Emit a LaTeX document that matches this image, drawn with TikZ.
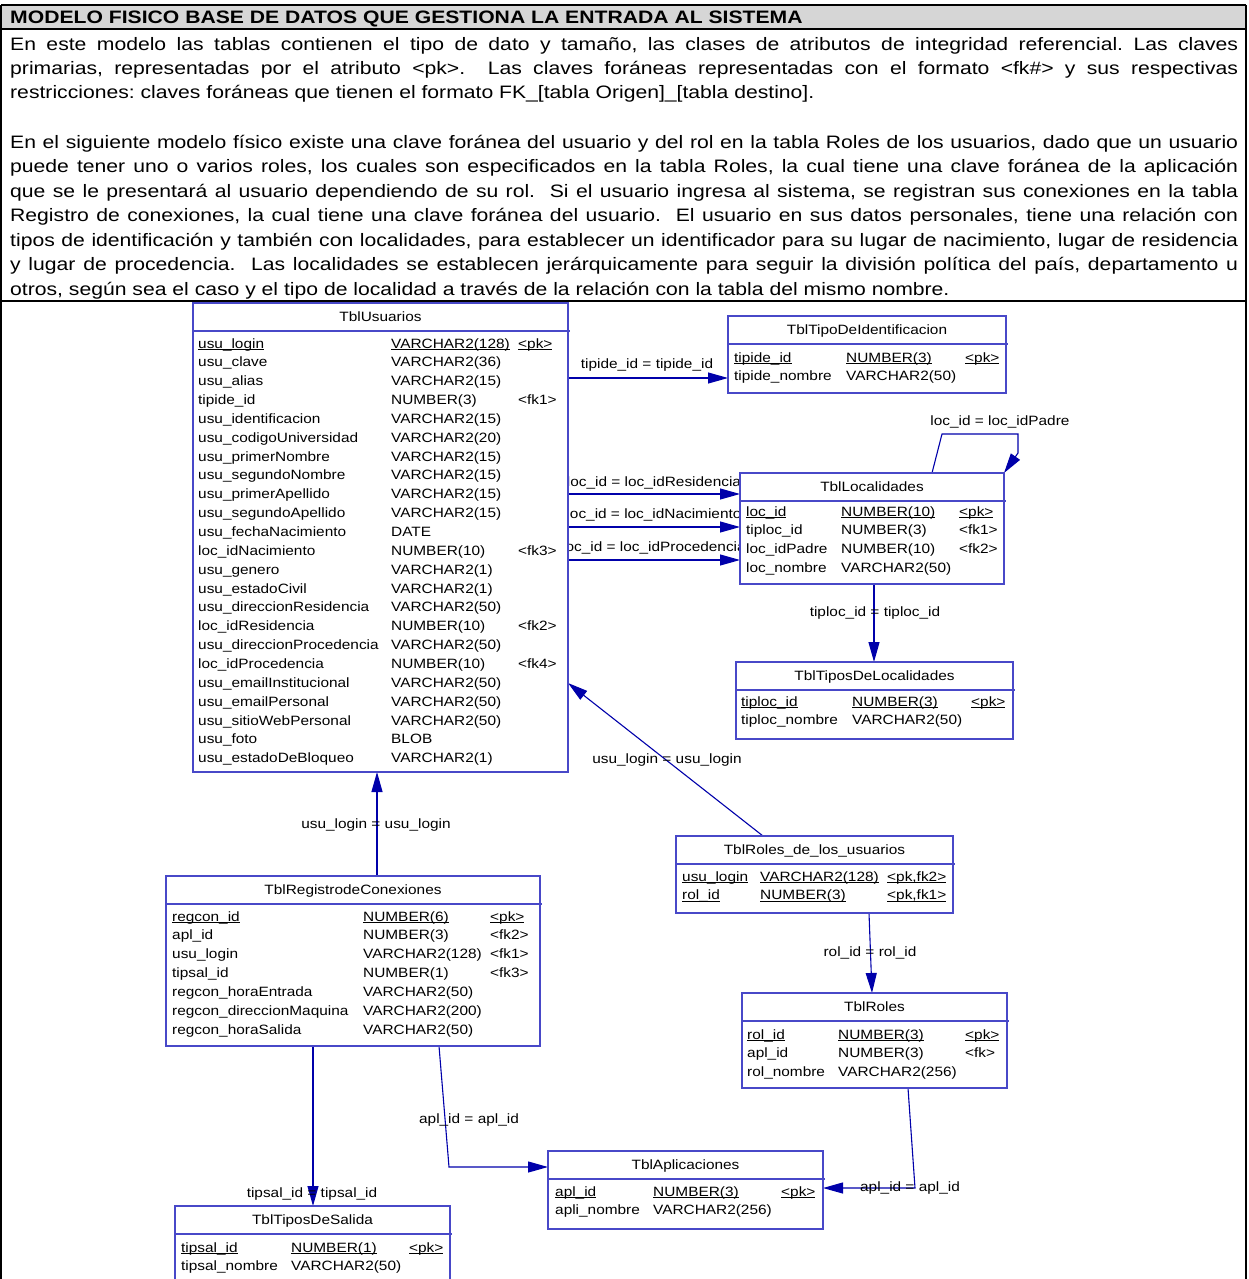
\documentclass[tikz,border=0pt]{standalone}
\usepackage{fontspec}
\setmainfont{Liberation Sans}
\newfontfamily\bodyfamily[FakeStretch=1.175]{Liberation Sans}
\newfontfamily\tabfamily[FakeStretch=1.14]{Liberation Sans}
\usetikzlibrary{arrows.meta}
\frenchspacing

\definecolor{boxblue}{RGB}{72,72,200}
\definecolor{linkblue}{RGB}{0,0,170}
\definecolor{barfill}{RGB}{214,214,214}

\newcommand\tabfont{\tabfamily\fontsize{13.5}{15}\selectfont}
\newcommand\txtfont{\bodyfamily\fontsize{18}{24}\selectfont}
\newcommand\ulbox[1]{\setbox0\hbox{#1}\rlap{\rule[-1.9pt]{\wd0}{0.8pt}}\box0}
\newcommand\jline[1]{\makebox[1228pt][s]{#1}}

\pgfdeclarelayer{background}
\pgfsetlayers{background,main}

\tikzset{
  tbl/.style={draw=boxblue, line width=1.1pt, fill=white, rectangle,
    inner sep=0pt, outer sep=0pt, anchor=north west},
  boxline/.style={draw=boxblue, line width=1.1pt},
  cell/.style={anchor=base west, inner sep=0pt, font=\tabfont},
  ttl/.style={anchor=base, inner sep=0pt, font=\tabfont},
  rel/.style={draw=linkblue, line width=1.1pt},
  fk/.style={rel, -{Triangle[length=20pt,width=11pt]}},
  lbl/.style={anchor=base, inner sep=0pt, font=\tabfont},
  para/.style={anchor=base west, inner sep=0pt, font=\txtfont},
  frame/.style={draw=black, line width=1.2pt}
}

% table box with title row
\newcommand\dbtable[6]{%
  \node[tbl, minimum width={#4-#2}, minimum height={#5-#3}] (#1) at (#2,#3) {};
  \draw[boxline] (#1.west |- 0,#3+28) -- ([xshift=2pt]#1.east |- 0,#3+28);
  \node[ttl] (#1-title) at ({(#2+#4)/2},#3+18) {#6};
}
% column rows: prefix, x name, x type, x key, first baseline, rows
\newcommand\tablerows[6]{%
  \foreach \colname/\coltype/\colkey [count=\i from 0] in {#6}{%
    \node[cell] (#1-\i-n) at (#2,#5+\i*18.85) {\colname};
    \node[cell] (#1-\i-t) at (#3,#5+\i*18.85) {\coltype};
    \node[cell] (#1-\i-k) at (#4,#5+\i*18.85) {\colkey};
  }%
}

\begin{document}
\begin{tikzpicture}[x=1pt,y=-1pt]
\useasboundingbox (0,0) rectangle (1248,1279);

% ---------- header and description ----------
\fill[barfill] (1,5) rectangle (1246,29);
\node[anchor=base west, inner sep=0pt, font=\bodyfamily\bfseries\fontsize{18}{20}\selectfont]
  (title) at (10,23.5) {MODELO FISICO BASE DE DATOS QUE GESTIONA LA ENTRADA AL SISTEMA};

\node[para] (p1) at (10,51) {\jline{En este modelo las tablas contienen el tipo de dato y tamaño, las clases de atributos de integridad referencial. Las claves}};
\node[para] (p2) at (10,75) {\jline{primarias, representadas por el atributo <pk>.\ \ Las claves foráneas representadas con el formato <fk\#> y sus respectivas}};
\node[para] (p3) at (10,99) {restricciones: claves foráneas que tienen el formato FK\_[tabla Origen]\_[tabla destino].};
\node[para] (p4) at (10,148) {\jline{En el siguiente modelo físico existe una clave foránea del usuario y del rol en la tabla Roles de los usuarios, dado que un usuario}};
\node[para] (p5) at (10,172) {\jline{puede tener uno o varios roles, los cuales son especificados en la tabla Roles, la cual tiene una clave foránea de la aplicación}};
\node[para] (p6) at (10,197) {\jline{que se le presentará al usuario dependiendo de su rol.\ \ Si el usuario ingresa al sistema, se registran sus conexiones en la tabla}};
\node[para] (p7) at (10,221) {\jline{Registro de conexiones, la cual tiene una clave foránea del usuario.\ \ El usuario en sus datos personales, tiene una relación con}};
\node[para] (p8) at (10,246) {\jline{tipos de identificación y también con localidades, para establecer un identificador para su lugar de nacimiento, lugar de residencia}};
\node[para] (p9) at (10,270) {\jline{y lugar de procedencia.\ \ Las localidades se establecen jerárquicamente para seguir la división política del país, departamento u}};
\node[para] (p10) at (10,295) {otros, según sea el caso y el tipo de localidad a través de la relación con la tabla del mismo nombre.};

% ---------- tables ----------
\dbtable{usu}{193}{303}{568}{772}{TblUsuarios}
\tablerows{usu}{198}{391}{518}{348}{%
  {\ulbox{usu\_login}}/{\ulbox{VARCHAR2(128)}}/{\ulbox{<pk>}},
  {usu\_clave}/{VARCHAR2(36)}/{},
  {usu\_alias}/{VARCHAR2(15)}/{},
  {tipide\_id}/{NUMBER(3)}/{<fk1>},
  {usu\_identificacion}/{VARCHAR2(15)}/{},
  {usu\_codigoUniversidad}/{VARCHAR2(20)}/{},
  {usu\_primerNombre}/{VARCHAR2(15)}/{},
  {usu\_segundoNombre}/{VARCHAR2(15)}/{},
  {usu\_primerApellido}/{VARCHAR2(15)}/{},
  {usu\_segundoApellido}/{VARCHAR2(15)}/{},
  {usu\_fechaNacimiento}/{DATE}/{},
  {loc\_idNacimiento}/{NUMBER(10)}/{<fk3>},
  {usu\_genero}/{VARCHAR2(1)}/{},
  {usu\_estadoCivil}/{VARCHAR2(1)}/{},
  {usu\_direccionResidencia}/{VARCHAR2(50)}/{},
  {loc\_idResidencia}/{NUMBER(10)}/{<fk2>},
  {usu\_direccionProcedencia}/{VARCHAR2(50)}/{},
  {loc\_idProcedencia}/{NUMBER(10)}/{<fk4>},
  {usu\_emailInstitucional}/{VARCHAR2(50)}/{},
  {usu\_emailPersonal}/{VARCHAR2(50)}/{},
  {usu\_sitioWebPersonal}/{VARCHAR2(50)}/{},
  {usu\_foto}/{BLOB}/{},
  {usu\_estadoDeBloqueo}/{VARCHAR2(1)}/{}}

\dbtable{tide}{728}{316}{1006}{393}{TblTipoDeIdentificacion}
\tablerows{tide}{734}{846}{965}{362}{%
  {\ulbox{tipide\_id}}/{\ulbox{NUMBER(3)}}/{\ulbox{<pk>}},
  {tipide\_nombre}/{VARCHAR2(50)}/{}}

\dbtable{loc}{740}{473}{1004}{584}{TblLocalidades}
\tablerows{loc}{746}{841}{959}{516}{%
  {\ulbox{loc\_id}}/{\ulbox{NUMBER(10)}}/{\ulbox{<pk>}},
  {tiploc\_id}/{NUMBER(3)}/{<fk1>},
  {loc\_idPadre}/{NUMBER(10)}/{<fk2>},
  {loc\_nombre}/{VARCHAR2(50)}/{}}

\dbtable{tloc}{736}{662}{1013}{739}{TblTiposDeLocalidades}
\tablerows{tloc}{741}{852}{971}{706}{%
  {\ulbox{tiploc\_id}}/{\ulbox{NUMBER(3)}}/{\ulbox{<pk>}},
  {tiploc\_nombre}/{VARCHAR2(50)}/{}}

\dbtable{rusu}{676}{836}{953}{913}{TblRoles\_de\_los\_usuarios}
\tablerows{rusu}{682}{760}{887}{881}{%
  {\ulbox{usu\_login}}/{\ulbox{VARCHAR2(128)}}/{\ulbox{<pk,fk2>}},
  {\ulbox{rol\_id}}/{\ulbox{NUMBER(3)}}/{\ulbox{<pk,fk1>}}}

\dbtable{rol}{742}{993}{1007}{1088}{TblRoles}
\tablerows{rol}{747}{838}{965}{1039}{%
  {\ulbox{rol\_id}}/{\ulbox{NUMBER(3)}}/{\ulbox{<pk>}},
  {apl\_id}/{NUMBER(3)}/{<fk>},
  {rol\_nombre}/{VARCHAR2(256)}/{}}

\dbtable{reg}{166}{876}{540}{1046}{TblRegistrodeConexiones}
\tablerows{reg}{172}{363}{490}{921}{%
  {\ulbox{regcon\_id}}/{\ulbox{NUMBER(6)}}/{\ulbox{<pk>}},
  {apl\_id}/{NUMBER(3)}/{<fk2>},
  {usu\_login}/{VARCHAR2(128)}/{<fk1>},
  {tipsal\_id}/{NUMBER(1)}/{<fk3>},
  {regcon\_horaEntrada}/{VARCHAR2(50)}/{},
  {regcon\_direccionMaquina}/{VARCHAR2(200)}/{},
  {regcon\_horaSalida}/{VARCHAR2(50)}/{}}

\dbtable{apl}{548}{1151}{823}{1229}{TblAplicaciones}
\tablerows{apl}{555}{653}{781}{1196}{%
  {\ulbox{apl\_id}}/{\ulbox{NUMBER(3)}}/{\ulbox{<pk>}},
  {apli\_nombre}/{VARCHAR2(256)}/{}}

\dbtable{tsal}{175}{1206}{450}{1300}{TblTiposDeSalida}
\tablerows{tsal}{181}{291}{409}{1252}{%
  {\ulbox{tipsal\_id}}/{\ulbox{NUMBER(1)}}/{\ulbox{<pk>}},
  {tipsal\_nombre}/{VARCHAR2(50)}/{}}

% ---------- references (behind the tables) ----------
\begin{pgfonlayer}{background}
  \draw[fk] (usu.east |- 0,378) -- (tide.west |- 0,378);
  \node[lbl] (l-tide) at (647,368) {tipide\_id = tipide\_id};

  \draw[fk] (usu.east |- 0,494) -- (loc.west |- 0,494);
  \node[lbl] (l-res) at (654,486) {loc\_id = loc\_idResidencia};
  \draw[fk] (usu.east |- 0,527) -- (loc.west |- 0,527);
  \node[lbl] (l-nac) at (654,518) {loc\_id = loc\_idNacimiento};
  \draw[fk] (usu.east |- 0,560) -- (loc.west |- 0,560);
  \node[lbl] (l-pro) at (654,551) {loc\_id = loc\_idProcedencia};

  \draw[fk] (loc.north -| 932,0) -- (942,434) -- (1018,434) -- (1018,453) -- (loc.north east);
  \node[lbl] (l-pad) at (1000,425) {loc\_id = loc\_idPadre};

  \draw[fk] (loc.south -| 874,0) -- (tloc.north -| 874,0);
  \node[lbl] (l-tloc) at (875,616) {tiploc\_id = tiploc\_id};

  \draw[fk] (rusu.north -| 763,0) -- (usu.east |- 0,683);
  \node[lbl] (l-rusu) at (667,763) {usu\_login = usu\_login};

  \draw[fk] (rusu.south -| 869,0) -- (rol.north -| 872,0);
  \node[lbl] (l-rol) at (870,956) {rol\_id = rol\_id};

  \draw[fk] (rol.south -| 908,0) -- (915,1188) -- (apl.east |- 0,1188);
  \node[lbl] (l-aplr) at (910,1191) {apl\_id = apl\_id};

  \draw[fk] (reg.north -| 377,0) -- (usu.south -| 377,0);
  \node[lbl] (l-reg) at (376,828) {usu\_login = usu\_login};

  \draw[fk] (reg.south -| 313,0) -- (tsal.north -| 313,0);
  \node[lbl] (l-tsal) at (312,1197) {tipsal\_id = tipsal\_id};

  \draw[fk] (reg.south -| 439,0) -- (449,1167) -- (apl.west |- 0,1167);
  \node[lbl] (l-apl) at (469,1123) {apl\_id = apl\_id};
\end{pgfonlayer}

% ---------- page frame ----------
\draw[frame] (1,5) -- (1246,5);
\draw[frame] (1,29) -- (1246,29);
\draw[frame] (1,301) -- (1246,301);
\draw[frame] (1,5) -- (1,1279);
\draw[frame] (1246,5) -- (1246,1279);
\end{tikzpicture}
\end{document}
